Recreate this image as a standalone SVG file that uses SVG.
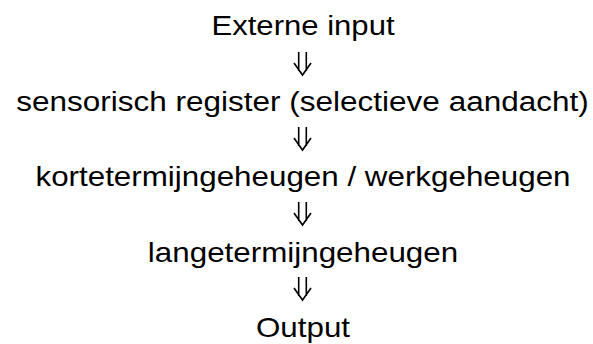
<svg xmlns="http://www.w3.org/2000/svg" width="593" height="344" viewBox="0 0 593 344">
  <style>
    .label { font-family: "Liberation Sans", Arial, sans-serif; font-size: 28px; fill: #000; text-anchor: middle; }
    .arrow { fill: none; stroke: #000; stroke-width: 1.6; stroke-linecap: butt; stroke-linejoin: miter; }
  </style>
  <defs>
    <!-- double-lined downward arrow, origin at top centre -->
    <path id="dbl-down" class="arrow" d="M-3.8,0 V19 M3.8,0 V19 M-8.5,11 L0,23 L8.5,11"/>
  </defs>
  <rect width="593" height="344" fill="#fff"/>
  <g id="connectors">
    <use href="#dbl-down" x="302.5" y="52"/>
    <use href="#dbl-down" x="302.5" y="127"/>
    <use href="#dbl-down" x="302.5" y="202"/>
    <use href="#dbl-down" x="302.5" y="277"/>
  </g>
  <!-- labels are set slightly wide: 28px type stretched 12% horizontally -->
  <g id="externe-input" transform="translate(303,35) scale(1.11,1)"><text class="label">Externe input</text></g>
  <g id="sensorisch-register" transform="translate(302.5,110.5) scale(1.125,1)"><text class="label">sensorisch register (selectieve aandacht)</text></g>
  <g id="kortetermijngeheugen" transform="translate(303,186) scale(1.12,1)"><text class="label">kortetermijngeheugen / werkgeheugen</text></g>
  <g id="langetermijngeheugen" transform="translate(303,261.5) scale(1.12,1)"><text class="label">langetermijngeheugen</text></g>
  <g id="output" transform="translate(303,337) scale(1.12,1)"><text class="label">Output</text></g>
</svg>
